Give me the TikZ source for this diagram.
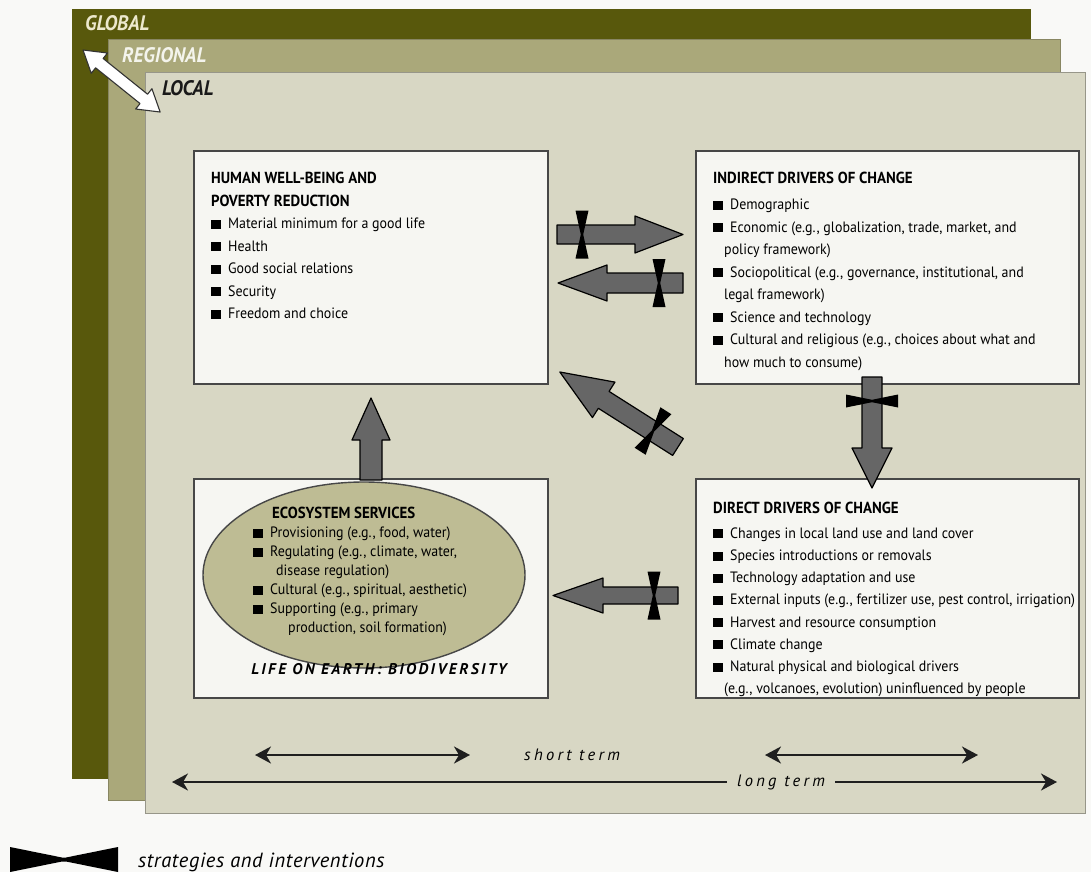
\documentclass[tikz,border=0pt]{standalone}
\usepackage{fontspec}
\setmainfont{PT Sans}[FakeStretch=0.93]
\newfontfamily\spacedf{PT Sans}[LetterSpace=20]
\newfontfamily\lifef{PT Sans}[LetterSpace=16]
\newfontfamily\legf{PT Sans}[LetterSpace=3]
\usetikzlibrary{arrows.meta,shapes.geometric}

\definecolor{globalc}{RGB}{88,88,12}
\definecolor{regionalc}{RGB}{170,168,122}
\definecolor{localc}{RGB}{216,215,196}
\definecolor{boxc}{RGB}{246,246,242}
\definecolor{ellc}{RGB}{190,188,148}
\definecolor{arrc}{RGB}{102,102,102}
\definecolor{bgc}{RGB}{249,249,247}
\definecolor{glabc}{RGB}{236,232,205}
\definecolor{rlabc}{RGB}{244,244,236}

\newcommand\bu{\rule{10pt}{9pt}\hspace{7pt}}
\newcommand\ttl{\fontsize{16}{20}\selectfont\bfseries}
\newcommand\BlockArrow[6]{%
  \begin{scope}[shift={(#1)},rotate=#2]
    \draw[blockarrow] (0,-#4) -- ({#3-#6},-#4) -- ({#3-#6},-#5) -- (#3,0)
      -- ({#3-#6},#5) -- ({#3-#6},#4) -- (0,#4) -- cycle;
  \end{scope}}
\newcommand\Bowtie[3]{%
  \begin{scope}[shift={(#1)},rotate=#2]
    \fill[black] (-6.5,-#3) -- (6.5,-#3) -- (1.2,0) -- (6.5,#3)
      -- (-6.5,#3) -- (-1.2,0) -- cycle;
  \end{scope}}

\begin{document}
\begin{tikzpicture}[x=1pt,y=-1pt,
  layer/.style={anchor=north west,inner sep=0pt,line width=0.8pt},
  box/.style={anchor=north west,inner sep=0pt,draw=black!72,line width=1.6pt,fill=boxc},
  txt/.style={anchor=north west,align=left,inner sep=0pt,font=\fontsize{15}{22.5}\selectfont},
  blockarrow/.style={fill=arrc,draw=black,line width=1.2pt,line join=round},
  whitearrow/.style={fill=white,draw=black!80,line width=1.1pt,line join=round},
  tip/.style={arrows={-Stealth[length=16pt,width=17pt,inset=5pt]}},
  timearrow/.style={draw=black!88,line width=2.3pt,arrows={Stealth[length=16pt,width=17pt,inset=5pt]-Stealth[length=16pt,width=17pt,inset=5pt]}},
  timeline/.style={draw=black!88,line width=2.3pt},
  labfont/.style={font=\fontsize{21}{24}\selectfont\bfseries\itshape,inner sep=0pt,anchor=west}]

\useasboundingbox (0,0) rectangle (1091,872);
\fill[bgc] (0,0) rectangle (1091,872);

% layers
\node[layer,fill=globalc,draw=globalc,minimum width=958pt,minimum height=769pt] (global) at (72,9) {};
\node[layer,fill=regionalc,draw=regionalc!80!black,minimum width=952pt,minimum height=761pt] (regional) at (108,39) {};
\node[layer,fill=localc,draw=localc!70!black,minimum width=940pt,minimum height=741pt] (local) at (145,72) {};

\node[labfont,text=glabc] (glab) at (85,23) {GLOBAL};
\node[labfont,text=rlabc] (rlab) at (122,55) {REGIONAL};
\node[labfont,text=black!90] (llab) at (162,88) {LOCAL};

% white scale arrow
\coordinate (wa) at (83,50);
\begin{scope}[shift={(wa)},rotate=-38.8]
  \draw[whitearrow] (0,0) -- (21,-13) -- (21,-6) -- (78,-6) -- (78,-13) -- (99,0)
    -- (78,13) -- (78,6) -- (21,6) -- (21,13) -- cycle;
\end{scope}

% boxes
\node[box,minimum width=354pt,minimum height=233pt] (hwb) at (193,150) {};
\node[box,minimum width=383pt,minimum height=233pt] (ind) at (695,150) {};
\node[box,minimum width=354pt,minimum height=219pt] (eco) at (193,478) {};
\node[box,minimum width=383pt,minimum height=219pt] (dir) at (695,478) {};
\node[draw=black!72,line width=1.4pt,fill=ellc,ellipse,minimum width=322pt,minimum height=186pt,inner sep=0pt] (ell) at (364,575) {};

% texts
\node[txt] (hwbt) at (211,172) {{\ttl HUMAN WELL-BEING AND}\\
{\ttl POVERTY REDUCTION}\\
\bu Material minimum for a good life\\
\bu Health\\
\bu Good social relations\\
\bu Security\\
\bu Freedom and choice};

\node[txt] (indt) at (713,172) {{\ttl INDIRECT DRIVERS OF CHANGE}\\[3.5pt]
\bu Demographic\\
\bu Economic (e.g., globalization, trade, market, and\\
\hspace*{11pt}policy framework)\\
\bu Sociopolitical (e.g., governance, institutional, and\\
\hspace*{11pt}legal framework)\\
\bu Science and technology\\
\bu Cultural and religious (e.g., choices about what and\\
\hspace*{11pt}how much to consume)};

\node[txt,font=\fontsize{15}{22.2}\selectfont] (dirt) at (713,502) {{\ttl DIRECT DRIVERS OF CHANGE}\\[2.5pt]
\bu Changes in local land use and land cover\\
\bu Species introductions or removals\\
\bu Technology adaptation and use\\
\bu External inputs (e.g., fertilizer use, pest control, irrigation)\\
\bu Harvest and resource consumption\\
\bu Climate change\\
\bu Natural physical and biological drivers\\
\hspace*{11pt}(e.g., volcanoes, evolution) uninfluenced by people};

\node[txt,font=\fontsize{15}{19}\selectfont] (ecot) at (253,507) {\hspace*{19pt}{\ttl ECOSYSTEM SERVICES}\\
\bu Provisioning (e.g., food, water)\\
\bu Regulating (e.g., climate, water,\\
\hspace*{23pt}disease regulation)\\
\bu Cultural (e.g., spiritual, aesthetic)\\
\bu Supporting (e.g., primary\\
\hspace*{35pt}production, soil formation)};

\node[inner sep=0pt,font=\fontsize{15.5}{18}\selectfont] (life) at (379,669) {\lifef\bfseries\itshape LIFE ON EARTH: BIODIVERSITY};

% block arrows
\coordinate (a1) at (557,234.5);
\coordinate (a2) at (683,283);
\coordinate (a3) at (678,447);
\coordinate (a4) at (872,377);
\coordinate (a5) at (371,480);
\coordinate (a6) at (678,595.5);
\BlockArrow{a1}{0}{126}{9.5}{18.5}{48}
\BlockArrow{a2}{180}{125}{10}{18}{49}
\BlockArrow{a3}{147.6}{140}{10}{21}{52}
\BlockArrow{a4}{-90}{111}{10}{20}{40}
\BlockArrow{a5}{90}{82}{11}{19}{42}
\BlockArrow{a6}{180}{125}{8.5}{17.5}{50}

\coordinate (b1) at (582,234.5);
\coordinate (b2) at (659,283);
\coordinate (b3) at (653,431);
\coordinate (b4) at (872,401);
\coordinate (b6) at (654,595.5);
\Bowtie{b1}{0}{24}
\Bowtie{b2}{0}{24}
\Bowtie{b3}{147.6}{24}
\Bowtie{b4}{90}{26}
\Bowtie{b6}{0}{24}

% time scale
\coordinate (s1l) at (255,755);
\coordinate (s1r) at (470,755);
\coordinate (s2l) at (765,755);
\coordinate (s2r) at (978,755);
\node[inner sep=0pt,font=\fontsize{16.5}{18}\selectfont] (st) at (572,755) {\spacedf\itshape short term};
\draw[timearrow] (s1l) -- (s1r);
\draw[timearrow] (s2l) -- (s2r);
\coordinate (ll) at (172,782);
\coordinate (lr) at (1057,782);
\node[inner xsep=10pt,inner ysep=0pt,font=\fontsize{16.5}{18}\selectfont] (lt) at (781,782) {\spacedf\itshape long term};
\draw[timeline,tip] (lt.west) -- (ll);
\draw[timeline,tip] (lt.east) -- (lr);

% legend
\coordinate (lg) at (64,859.5);
\fill[black] (10,847) -- (62,857.5) -- (66,857.5) -- (118,847) -- (118,872) -- (66,861.5) -- (62,861.5) -- (10,872) -- cycle;
\node[inner sep=0pt,anchor=west,font=\fontsize{20.5}{22}\selectfont] (legt) at (138,862) {\legf\itshape strategies and interventions};
\end{tikzpicture}
\end{document}
